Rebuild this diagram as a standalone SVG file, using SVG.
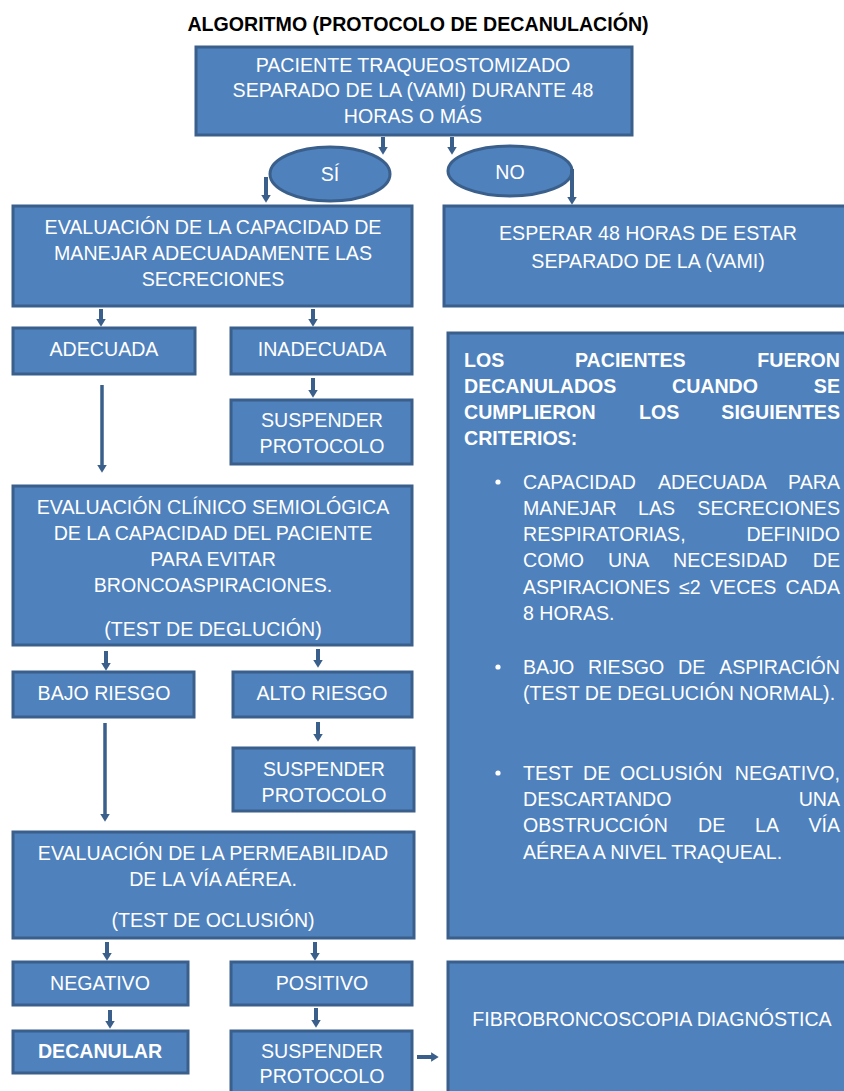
<svg xmlns="http://www.w3.org/2000/svg" width="844" height="1091" viewBox="0 0 844 1091">
<style>
.bx{fill:#4f81bd;stroke:#3a5f8b;stroke-width:3}
.t{font-family:"Liberation Sans",Arial,sans-serif;font-size:19.6px;fill:#ffffff;text-anchor:middle}
.j{font-family:"Liberation Sans",Arial,sans-serif;font-size:19.6px;fill:#ffffff}
.b{font-weight:bold}
.e{text-anchor:end}
.ttl{font-family:"Liberation Sans",Arial,sans-serif;font-size:19.6px;font-weight:bold;fill:#000;text-anchor:middle}
.ar{stroke:#3a5f8b;stroke-width:4;fill:none;marker-end:url(#ah)}
.ar2{stroke:#3a5f8b;stroke-width:3.5;fill:none;marker-end:url(#ah)}
</style>
<defs>
<marker id="ah" markerUnits="userSpaceOnUse" viewBox="0 0 10 10" refX="2" refY="5" markerWidth="9.5" markerHeight="9.5" orient="auto">
<path d="M0,0 L8,5 L0,10 z" fill="#3a5f8b"/>
</marker>
</defs>
<rect width="844" height="1091" fill="#ffffff"/>
<text class="ttl" x="418" y="31">ALGORITMO (PROTOCOLO DE DECANULACIÓN)</text>

<g id="n-top">
<rect class="bx" x="196" y="47" width="436" height="88"/>
<text class="t" x="413" y="72">PACIENTE TRAQUEOSTOMIZADO</text>
<text class="t" x="413" y="97">SEPARADO DE LA (VAMI) DURANTE 48</text>
<text class="t" x="413" y="123">HORAS O MÁS</text>
</g>
<g id="n-si">
<ellipse class="bx" cx="330" cy="174" rx="60" ry="27"/>
<text class="t" x="330" y="181">SÍ</text>
</g>
<g id="n-no">
<ellipse class="bx" cx="510" cy="171" rx="62" ry="25"/>
<text class="t" x="510" y="179">NO</text>
</g>
<g id="n-eval1">
<rect class="bx" x="13" y="206" width="399" height="100"/>
<text class="t" x="213" y="234">EVALUACIÓN DE LA CAPACIDAD DE</text>
<text class="t" x="213" y="260">MANEJAR ADECUADAMENTE LAS</text>
<text class="t" x="213" y="286">SECRECIONES</text>
</g>
<g id="n-esperar">
<rect class="bx" x="444" y="206" width="420" height="100"/>
<text class="t" x="648" y="240">ESPERAR 48 HORAS DE ESTAR</text>
<text class="t" x="648" y="268">SEPARADO DE LA (VAMI)</text>
</g>
<g id="n-adecuada">
<rect class="bx" x="13" y="328" width="182" height="46"/>
<text class="t" x="104" y="356">ADECUADA</text>
</g>
<g id="n-inadecuada">
<rect class="bx" x="231" y="328" width="181" height="46"/>
<text class="t" x="322" y="356">INADECUADA</text>
</g>
<g id="n-susp1">
<rect class="bx" x="231" y="400" width="181" height="64"/>
<text class="t" x="322" y="427">SUSPENDER</text>
<text class="t" x="322" y="453">PROTOCOLO</text>
</g>
<g id="n-criterios">
<rect class="bx" x="448" y="333" width="420" height="605"/>
<text class="j b" x="464" y="367">LOS</text>
<text class="j b" x="575" y="367">PACIENTES</text>
<text class="j b e" x="840" y="367">FUERON</text>
<text class="j b" x="464" y="393">DECANULADOS</text>
<text class="j b" x="672" y="393">CUANDO</text>
<text class="j b e" x="840" y="393">SE</text>
<text class="j b" x="464" y="419">CUMPLIERON</text>
<text class="j b" x="639" y="419">LOS</text>
<text class="j b e" x="840" y="419">SIGUIENTES</text>
<text class="j b" x="464" y="445">CRITERIOS:</text>
<circle cx="498" cy="482" r="2.6" fill="#ffffff"/>
<text class="j" x="523" y="489">CAPACIDAD</text>
<text class="j" x="658" y="489">ADECUADA</text>
<text class="j e" x="840" y="489">PARA</text>
<text class="j" x="523" y="515">MANEJAR</text>
<text class="j" x="638" y="515">LAS</text>
<text class="j e" x="840" y="515">SECRECIONES</text>
<text class="j" x="523" y="541">RESPIRATORIAS,</text>
<text class="j e" x="840" y="541">DEFINIDO</text>
<text class="j" x="523" y="567">COMO</text>
<text class="j" x="608" y="567">UNA</text>
<text class="j" x="673" y="567">NECESIDAD</text>
<text class="j e" x="840" y="567">DE</text>
<text class="j" x="523" y="594">ASPIRACIONES</text>
<text class="j" x="679" y="594">≤2</text>
<text class="j" x="710" y="594">VECES</text>
<text class="j e" x="840" y="594">CADA</text>
<text class="j" x="523" y="620">8 HORAS.</text>
<circle cx="498" cy="667" r="2.6" fill="#ffffff"/>
<text class="j" x="523" y="674">BAJO</text>
<text class="j" x="588" y="674">RIESGO</text>
<text class="j" x="678" y="674">DE</text>
<text class="j e" x="840" y="674">ASPIRACIÓN</text>
<text class="j" x="523" y="700">(TEST DE DEGLUCIÓN NORMAL).</text>
<circle cx="498" cy="773" r="2.6" fill="#ffffff"/>
<text class="j" x="523" y="780">TEST</text>
<text class="j" x="583" y="780">DE</text>
<text class="j" x="620" y="780">OCLUSIÓN</text>
<text class="j e" x="840" y="780">NEGATIVO,</text>
<text class="j" x="523" y="806">DESCARTANDO</text>
<text class="j e" x="840" y="806">UNA</text>
<text class="j" x="523" y="832">OBSTRUCCIÓN</text>
<text class="j" x="698" y="832">DE</text>
<text class="j" x="755" y="832">LA</text>
<text class="j e" x="840" y="832">VÍA</text>
<text class="j" x="523" y="859">AÉREA A NIVEL TRAQUEAL.</text>
</g>
<g id="n-eval2">
<rect class="bx" x="13" y="486" width="399" height="159"/>
<text class="t" x="213" y="514">EVALUACIÓN CLÍNICO SEMIOLÓGICA</text>
<text class="t" x="213" y="540">DE LA CAPACIDAD DEL PACIENTE</text>
<text class="t" x="213" y="566">PARA EVITAR</text>
<text class="t" x="213" y="592">BRONCOASPIRACIONES.</text>
<text class="t" x="213" y="636">(TEST DE DEGLUCIÓN)</text>
</g>
<g id="n-bajo">
<rect class="bx" x="13" y="672" width="181" height="45"/>
<text class="t" x="104" y="700">BAJO RIESGO</text>
</g>
<g id="n-alto">
<rect class="bx" x="233" y="672" width="179" height="45"/>
<text class="t" x="322" y="700">ALTO RIESGO</text>
</g>
<g id="n-susp2">
<rect class="bx" x="233" y="748" width="181" height="63"/>
<text class="t" x="324" y="776">SUSPENDER</text>
<text class="t" x="324" y="802">PROTOCOLO</text>
</g>
<g id="n-eval3">
<rect class="bx" x="13" y="832" width="401" height="106"/>
<text class="t" x="213" y="860">EVALUACIÓN DE LA PERMEABILIDAD</text>
<text class="t" x="213" y="886">DE LA VÍA AÉREA.</text>
<text class="t" x="213" y="927">(TEST DE OCLUSIÓN)</text>
</g>
<g id="n-negativo">
<rect class="bx" x="13" y="962" width="175" height="43"/>
<text class="t" x="100" y="990">NEGATIVO</text>
</g>
<g id="n-positivo">
<rect class="bx" x="231" y="962" width="181" height="43"/>
<text class="t" x="322" y="990">POSITIVO</text>
</g>
<g id="n-decanular">
<rect class="bx" x="13" y="1031" width="175" height="42"/>
<text class="t b" x="100" y="1058">DECANULAR</text>
</g>
<g id="n-susp3">
<rect class="bx" x="231" y="1031" width="181" height="75"/>
<text class="t" x="322" y="1058">SUSPENDER</text>
<text class="t" x="322" y="1083">PROTOCOLO</text>
</g>
<g id="n-fibro">
<rect class="bx" x="448" y="962" width="420" height="150"/>
<text class="t" x="652" y="1026">FIBROBRONCOSCOPIA DIAGNÓSTICA</text>
</g>

<g id="connectors">
<line class="ar" x1="383" y1="137" x2="383" y2="149"/>
<line class="ar" x1="452" y1="137" x2="452" y2="149"/>
<line class="ar" x1="266" y1="177" x2="266" y2="197"/>
<line class="ar" x1="572" y1="169" x2="572" y2="199"/>
<line class="ar" x1="101" y1="309" x2="101" y2="321"/>
<line class="ar" x1="313" y1="309" x2="313" y2="321"/>
<line class="ar" x1="313" y1="378" x2="313" y2="392"/>
<line class="ar2" x1="102" y1="385" x2="102" y2="467"/>
<line class="ar" x1="106" y1="651" x2="106" y2="665"/>
<line class="ar" x1="318" y1="649" x2="318" y2="662"/>
<line class="ar" x1="318" y1="722" x2="318" y2="736"/>
<line class="ar2" x1="105" y1="723" x2="105" y2="816"/>
<line class="ar" x1="107" y1="942" x2="107" y2="955"/>
<line class="ar" x1="315" y1="942" x2="315" y2="955"/>
<line class="ar" x1="110" y1="1010" x2="110" y2="1023"/>
<line class="ar" x1="316" y1="1008" x2="316" y2="1022"/>
<line class="ar" x1="417" y1="1057" x2="433" y2="1057"/>
</g>
</svg>
